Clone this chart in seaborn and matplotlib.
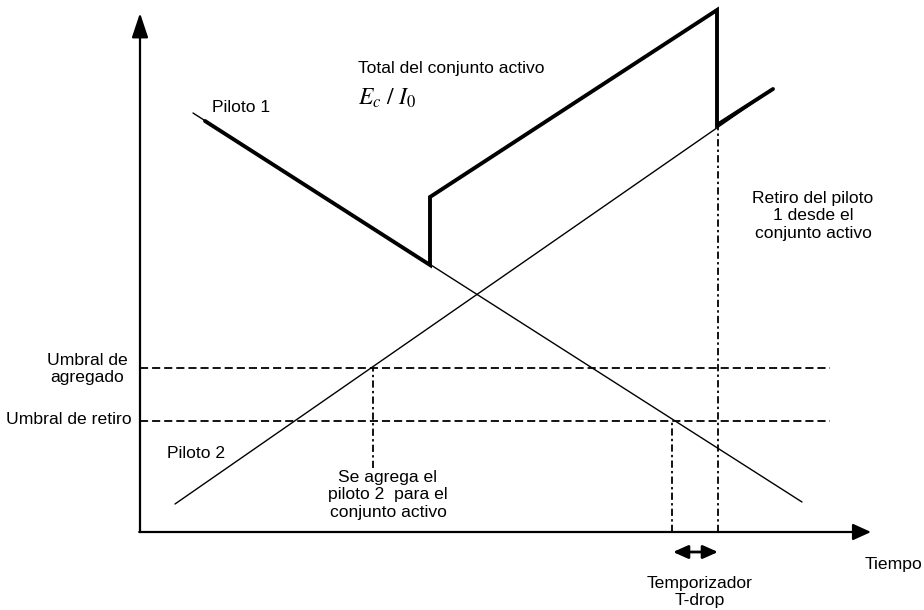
import matplotlib

matplotlib.use("Agg")

import matplotlib.pyplot as plt
import numpy as np
import pandas as pd
import seaborn as sns

# values (time / level units, arbitrary)
pilot1_t = [5.3, 66.2]
pilot1_level = [41.9, 3.0]
pilot2_t = [3.5, 63.3]
pilot2_level = [2.8, 44.3]
total_t = [6.5, 29.0, 29.0, 57.7, 57.7, 63.3]
total_level = [41.1, 26.7, 33.5, 52.2, 40.7, 44.3]
thresholds = {"add": 16.4, "drop": 11.1}
threshold_end = 69.0
t_add = 23.3
t_drop_start = 53.2
t_drop = 57.8
add_marker_bottom = 6.4
drop_marker_top = 40.7

sns.set_theme(style="white")
plt.rcParams["font.family"] = ["Liberation Sans", "DejaVu Sans"]
plt.rcParams["mathtext.fontset"] = "stix"

fig = plt.figure(figsize=(9.24, 6.10), dpi=100)
ax = fig.add_axes([140 / 924, 78 / 610, 784 / 924, 532 / 610])
ax.set_xlim(0, 78.4)
ax.set_ylim(0, 53.2)
ax.axis("off")


def px(x, y):
    # pixel position of the reference image -> data coords
    return (x - 140) / 10, (532 - y) / 10


thin = 1.0
thick = 2.8

df1 = pd.DataFrame({"t": pilot1_t, "level": pilot1_level})
df2 = pd.DataFrame({"t": pilot2_t, "level": pilot2_level})
dft = pd.DataFrame({"t": total_t, "level": total_level})
sns.lineplot(data=df1, x="t", y="level", color="black", lw=thin, ax=ax,
             estimator=None, sort=False)
sns.lineplot(data=df2, x="t", y="level", color="black", lw=thin, ax=ax,
             estimator=None, sort=False)
sns.lineplot(data=dft, x="t", y="level", color="black", lw=thick, ax=ax,
             estimator=None, sort=False, clip_on=False)
ax.lines[-1].set_solid_joinstyle("miter")

# thresholds
for level in thresholds.values():
    ax.hlines(level, 0, threshold_end, colors="black", lw=1.3,
              linestyles=[(0, (4.5, 2.2))])

# event markers
dashdot = [(0, (4.0, 1.8, 1.3, 1.8))]
ax.vlines(t_add, add_marker_bottom, thresholds["add"], colors="black", lw=1.3,
          linestyles=dashdot)
ax.vlines(t_drop_start, 0, thresholds["drop"], colors="black", lw=1.3, linestyles=dashdot)
ax.vlines(t_drop, 0, drop_marker_top, colors="black", lw=1.3, linestyles=dashdot)

# axes with arrows
ax.annotate("", xy=(0, 51.9), xytext=(0, 0), xycoords="data",
            arrowprops=dict(arrowstyle="-|>,head_length=1.5,head_width=0.5",
                            color="black", lw=1.6, shrinkA=0, shrinkB=0,
                            mutation_scale=10), annotation_clip=False)
ax.annotate("", xy=(73.1, 0), xytext=(-0.08, 0), xycoords="data",
            arrowprops=dict(arrowstyle="-|>,head_length=1.1,head_width=0.5",
                            color="black", lw=1.6, shrinkA=0, shrinkB=0,
                            mutation_scale=10), annotation_clip=False)

# timer arrow
ax.annotate("", xy=(t_drop, -2.0), xytext=(t_drop_start + 0.1, -2.0),
            arrowprops=dict(arrowstyle="<|-|>,head_length=0.9,head_width=0.4",
                            color="black", lw=2.0, shrinkA=0, shrinkB=0,
                            mutation_scale=10), annotation_clip=False)

fs = 12.6
txt = dict(fontsize=fs, color="black", linespacing=1.18, clip_on=False)
ax.text(*px(212, 108), "Piloto 1", ha="left", va="center", **txt)
ax.text(*px(358, 68), "Total del conjunto activo", ha="left", va="center", **txt)
ax.text(*px(358, 98), r"$E_c\ /\ I_0$", ha="left", va="center",
        fontsize=17, color="black")
ax.text(*px(813, 216), "Retiro del piloto\n1 desde el\nconjunto activo",
        ha="center", va="center", multialignment="center", **txt)
ax.text(*px(87, 369), "Umbral de\nagregado", ha="center", va="center",
        multialignment="center", **txt)
ax.text(*px(132, 420), "Umbral de retiro", ha="right", va="center", **txt)
ax.text(*px(167, 454), "Piloto 2", ha="left", va="center", **txt)
ax.text(*px(388, 495), "Se agrega el\npiloto 2  para el\nconjunto activo",
        ha="center", va="center", multialignment="center", **txt)
ax.text(*px(865, 565), "Tiempo", ha="left", va="center", **txt)
ax.text(*px(700, 592), "Temporizador\nT-drop", ha="center", va="center",
        multialignment="center", **txt)

fig.savefig("out.png", dpi=100, facecolor="white")
plt.close(fig)
